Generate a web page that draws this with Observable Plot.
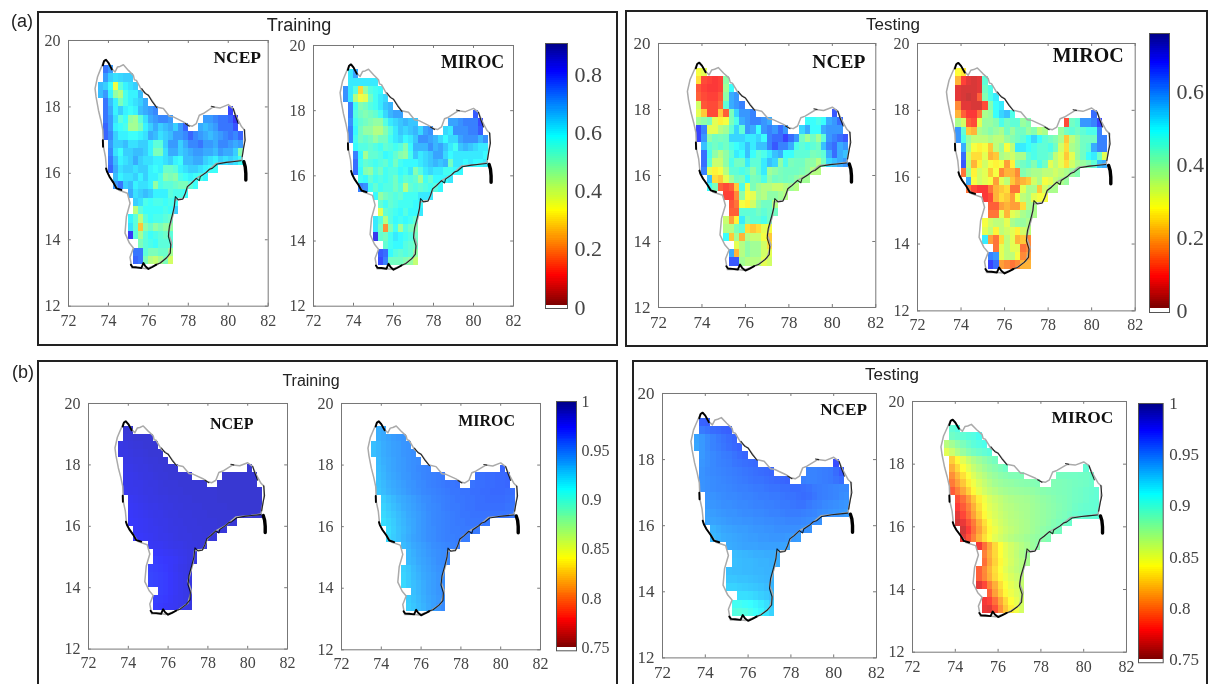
<!DOCTYPE html>
<html>
<head>
<meta charset="utf-8">
<script src="https://cdn.jsdelivr.net/npm/d3@7"></script>
<script src="https://cdn.jsdelivr.net/npm/@observablehq/plot@0.6"></script>
<style>
html,body{margin:0;padding:0;background:#fff;}
#page{position:relative;width:1209px;height:684px;overflow:hidden;background:#fff;font-family:"Liberation Sans",sans-serif;color:#222;filter:blur(0.5px);}
.box{position:absolute;border:2px solid #222;box-sizing:border-box;}
.lab{position:absolute;transform:translate(-50%,-50%);white-space:nowrap;}
#page svg{position:absolute;overflow:visible;background:transparent;}
</style>
</head>
<body>
<div id="page"></div>
<script>
// Grid: latitude of the top of each row and the longitude spans it covers
const rowTops = [19.25,19,18.75,18.5,18.25,18,17.75,17.5,17.25,17,16.75,16.5,16.25,16,15.75,15.5,15.25,15,14.75,14.5,14.25,14,13.75,13.5];
const rowSpans = [
 [[73.75,74.25]],[[73.75,75.25]],[[73.5,75.5]],[[73.5,75.75]],[[73.75,76]],[[73.75,76.5],[80,80.25]],
 [[73.75,77.25],[78.75,80.5]],[[73.75,78],[78.5,80.5]],[[73.75,80.75]],[[74,80.75]],[[74,80.75]],[[74,80.75]],
 [[74,79.5]],[[74.25,79]],[[74.25,78.5]],[[75,78]],[[75.25,77.5]],[[75.25,77.5]],[[75,77.25]],[[75,77.25]],
 [[75,77.25]],[[75.5,77.25]],[[75.25,77.25]],[[75.25,77.25]]
];
// Panel (a), values in hundredths
const aTrainNcep = [
[73,69],[69,63,61,62,63,63],[65,63,57,34,53,59,61,63],[65,69,59,46,42,55,59,59,65],[73,65,59,49,55,59,61,63,67],
[73,67,59,63,59,57,59,65,67,69,71,79],
[73,69,61,53,57,46,44,53,61,67,69,71,71,69,69,69,71,73,73,75,81],
[75,69,59,57,55,44,44,49,59,63,67,63,65,67,63,69,75,67,65,67,69,73,73,73,77],
[75,71,63,59,59,57,57,59,61,67,65,61,63,65,69,69,71,75,71,69,67,65,67,69,71,73,71,75],
[69,63,63,65,61,61,63,63,59,53,53,63,69,69,63,67,71,71,73,69,69,67,71,71,69,67,69],
[71,61,57,63,63,65,65,63,59,49,49,61,67,67,63,65,67,69,69,67,67,65,69,67,67,63,48],
[73,65,59,61,63,67,63,61,61,59,59,61,63,59,57,65,65,67,67,63,61,59,63,61,63,61,57],
[75,67,61,63,63,61,63,63,59,57,59,51,51,53,59,61,63,63,61,59,57,57],
[65,59,61,61,63,59,63,59,59,55,47,49,47,55,57,59,57,55,59],
[69,73,63,65,59,61,61,59,46,55,53,53,51,49,49,53,57],
[67,61,63,65,63,59,59,59,53,55,55,57],[63,61,55,57,55,55,57,55,57],[41,53,57,57,57,57,55,57,63],
[59,53,41,53,57,55,55,53,51],[61,53,26,47,51,46,49,46,46],[81,53,44,53,57,55,53,51,53],
[49,53,55,57,53,53,53],[73,73,53,49,49,51,51,44],[75,73,49,42,40,44,49,38]];
const aTrainMiroc = [
[60,68],[60,60,60,60,60,60],[70,60,54,28,46,54,56,58],[70,60,42,34,36,50,56,60,62],[72,56,48,50,54,56,60,64,66],
[72,54,50,48,50,52,56,62,66,68,68,76],
[70,56,52,50,48,46,46,54,60,62,64,66,64,64,68,68,70,72,72,72,78],
[72,58,50,46,46,42,42,48,54,60,64,62,64,66,62,68,70,62,60,70,70,70,72,72,76],
[72,56,50,52,50,46,50,50,56,60,62,58,60,64,70,70,68,66,62,58,62,62,68,70,70,70,66,70],
[58,54,54,52,54,56,52,54,56,54,48,58,66,66,66,70,66,68,64,60,56,64,66,64,62,60,60],
[72,58,44,52,52,54,58,56,52,48,46,56,64,60,62,64,68,68,62,58,60,60,60,60,60,60,58],
[74,56,52,54,56,54,52,56,50,56,58,58,58,60,62,64,66,64,66,50,60,60,58,60,58,58,60],
[74,58,48,46,54,50,56,54,54,58,56,60,48,54,60,62,60,60,56,56,58,58],
[56,58,52,56,54,56,54,50,56,52,54,52,44,56,52,58,58,58,60],
[72,70,56,52,56,54,54,50,54,42,52,54,52,54,56,54,58],
[58,46,50,52,54,52,56,56,56,60,60,60],[52,56,52,54,56,56,56,58,58],[36,52,54,56,58,54,58,58,60],
[60,54,42,54,58,56,58,56,52],[60,50,20,48,56,44,54,50,48],[82,52,50,56,60,58,56,54,50],
[52,56,58,58,54,52,50],[76,74,58,54,52,54,52,46],[78,72,50,50,50,48,46,40]];
const aTestNcep = [
[28,30],[24,10,9,8,9,39],[null,11,9,8,8,9,37,48],[null,12,10,9,9,11,39,56,58],[32,11,10,10,13,44,56,58,60],
[30,22,10,10,22,12,41,52,58,58,60,64],
[37,39,41,30,26,28,41,46,56,58,60,60,58,56,48,48,46,48,56,58,62],
[66,60,30,30,35,37,44,52,44,58,56,48,58,60,58,62,58,52,56,48,48,56,58,58,58],
[66,58,39,42,41,42,52,52,52,50,50,52,48,60,62,62,66,62,58,42,37,42,37,44,58,60,62,64],
[54,44,42,44,42,46,48,50,54,50,54,54,60,64,60,60,56,46,44,46,44,42,54,60,62,56,58],
[62,46,39,35,39,44,50,48,54,48,44,46,50,54,56,48,48,44,44,44,41,42,44,56,62,56,54],
[62,44,33,33,39,46,42,42,50,44,44,50,54,52,39,46,41,42,42,39,39,35,42,52,54,56,58],
[60,30,26,28,35,44,44,46,44,39,44,50,37,39,41,42,42,42,41,39,35,35],
[54,24,22,30,37,42,41,48,41,42,46,39,42,41,42,41,39,37,37],
[48,41,12,10,12,22,46,30,41,37,35,35,33,33,35,37,35],
[9,9,16,39,28,30,37,35,39,39,37,35],[11,14,28,26,32,39,42,42,35],[12,12,44,44,44,42,44,42,42],
[33,18,26,50,42,44,44,46,42],[35,35,41,44,24,22,24,30,28],[48,22,37,20,35,33,33,28,22],
[30,35,39,37,37,32,24],[56,20,35,39,37,37,32,30],[64,64,37,35,35,35,30,32]];
const aTestMiroc = [
[27,25],[20,9,6,5,6,44],[null,6,5,5,5,6,42,46],[null,6,5,4,5,12,40,46,50],[16,6,6,5,5,10,40,48,50],
[20,12,8,8,14,36,38,48,52,54,46,62],
[36,32,12,10,30,38,38,40,46,42,44,44,38,40,10,42,44,58,58,60,66],
[58,44,22,20,36,38,40,38,36,42,38,42,42,38,40,34,36,38,42,44,42,44,46,46,60],
[58,46,38,34,34,34,36,34,34,38,40,42,44,48,52,48,44,42,40,36,22,34,38,42,42,42,60,60],
[56,36,28,26,28,22,34,38,28,34,50,50,48,46,44,44,46,42,32,24,36,38,42,44,56,60,60],
[62,32,24,24,30,20,22,36,34,32,36,36,44,46,44,44,42,34,30,22,30,38,42,48,50,42,30],
[64,34,20,26,32,28,26,28,18,26,40,42,44,40,46,42,30,34,30,24,32,36,38,40,44,54,56],
[14,38,26,32,30,22,28,16,20,20,16,40,38,36,36,34,34,32,34,36,38,40],
[56,28,32,30,28,18,30,34,22,18,20,22,32,36,28,30,34,36,38],
[14,10,8,8,14,20,22,24,14,14,30,36,36,22,32,36,36],
[8,10,20,24,22,18,28,34,36,30,28,28],[12,12,18,20,18,18,24,36,36],[14,14,30,20,30,32,36,38,36],
[28,32,34,34,30,36,38,38,36],[30,34,26,34,32,30,26,32,34],[50,18,14,24,34,30,20,22,16],
[14,30,34,30,30,14,16],[60,58,30,34,34,28,16,18],[66,62,18,16,14,16,20,20]];
// Panel (b), values in thousandths
const bTrainNcep = [
[984,984],[983,983,984,984,984,984],[980,981,982,983,983,984,984,984],[980,980,981,982,982,983,984,984,984],[980,980,981,981,982,983,983,984,984],
[979,979,980,981,981,982,983,983,984,984,984,985],
[978,978,979,980,981,981,982,983,983,984,984,984,984,984,985,985,985,985,985,985,985],
[978,978,979,979,980,981,981,982,983,983,983,984,984,984,984,984,984,985,985,985,985,985,985,985,985],
[977,978,978,979,980,980,981,982,982,983,983,983,984,984,984,984,984,984,984,985,985,985,985,985,985,985,985,985],
[976,977,978,979,980,980,981,981,982,982,983,983,983,984,984,984,984,984,985,985,985,985,985,985,985,985,985],
[975,976,977,978,979,979,980,981,981,982,982,983,983,983,983,984,984,984,984,984,985,985,985,985,985,985,985],
[974,975,976,977,978,979,979,980,981,981,982,982,982,983,983,983,984,984,984,984,984,984,985,985,985,985,985],
[973,974,975,976,977,978,979,979,980,981,981,982,982,982,983,983,983,983,984,984,984,984],
[974,975,976,977,977,978,979,980,980,981,981,982,982,982,983,983,983,983,983],
[973,974,975,976,977,978,978,979,980,981,981,981,982,982,982,983,983],
[975,976,976,977,978,979,979,980,981,981,982,982],[973,974,975,976,977,978,979,980,981],[971,972,973,974,975,977,978,980,981],
[969,970,971,972,974,976,978,979,981],[968,969,970,971,973,975,977,979,981],[968,969,970,971,973,975,977,979,981],
[970,971,973,975,977,979,980],[970,971,972,974,976,977,979,980],[971,972,974,975,976,978,979,981]];
const bTrainMiroc = [
[935,937],[935,937,939,941,942,943],[930,933,936,938,940,941,943,944],[930,933,936,938,940,941,943,944,945],[932,935,937,939,941,942,944,945,946],
[931,934,937,939,941,942,944,945,947,948,949,958],
[930,933,936,938,940,942,943,945,946,948,949,950,951,952,955,955,956,956,957,957,958],
[929,932,935,937,939,941,943,944,946,947,949,950,951,952,953,953,954,954,955,955,956,956,957,957,958],
[928,931,934,936,938,940,942,944,945,947,948,949,950,951,952,953,953,954,954,955,955,956,956,957,957,957,956,955],
[926,929,932,935,937,939,941,943,945,946,948,949,950,951,952,953,953,954,954,955,955,956,956,956,956,955,954],
[924,927,930,933,936,938,940,942,944,946,947,948,950,951,952,952,953,954,954,955,955,955,955,955,955,954,953],
[922,925,928,931,934,937,939,941,943,945,947,948,949,950,951,952,953,953,954,954,954,954,954,954,953,953,952],
[920,923,926,930,933,936,938,941,943,945,947,948,949,950,951,952,952,953,953,953,953,952],
[921,925,929,932,935,938,941,943,945,946,948,949,950,951,951,952,952,952,952],
[922,926,929,933,936,939,941,943,945,946,948,949,950,950,951,951,951],
[931,934,937,939,941,943,945,946,947,948,949,950],[932,935,938,940,942,944,945,946,947],[932,934,937,939,941,943,945,946,947],
[925,928,932,935,938,940,942,944,945],[924,927,931,934,937,939,941,943,945],[922,926,930,933,936,939,941,943,945],
[930,933,936,939,941,943,945],[926,929,932,935,938,940,942,945],[925,928,931,934,937,940,943,946]];
const bTestNcep = [
[959,960],[952,954,956,957,959,960],[939,942,946,949,952,954,956,958],[938,942,946,949,951,953,955,957,959],[942,945,947,949,951,952,954,956,958],
[943,945,947,949,950,951,953,954,955,956,957,966],
[944,946,947,948,949,950,951,952,953,954,955,956,957,958,949,949,950,951,952,956,962],
[944,945,946,947,948,949,950,951,952,953,954,954,955,956,957,958,959,950,949,949,950,951,952,954,956],
[944,945,946,947,947,948,949,950,950,951,952,952,953,954,954,955,955,956,956,955,954,952,951,950,949,948,947,947],
[944,944,945,946,947,947,948,949,949,950,951,951,952,952,953,954,954,955,956,955,953,951,950,949,948,946,945],
[942,943,944,945,945,946,947,947,948,949,949,950,950,951,952,952,953,954,954,952,950,949,947,946,945,944,943],
[940,941,942,943,944,944,945,946,946,947,947,948,949,949,950,951,951,951,950,949,948,946,945,944,943,942,941],
[939,939,940,941,942,943,943,944,944,945,945,946,946,947,947,948,948,948,947,946,945,944],
[934,936,938,939,940,941,941,942,943,943,944,944,945,945,945,945,945,944,944],
[932,934,936,937,938,939,940,941,941,942,942,943,943,943,942,942,941],
[936,937,938,939,939,939,940,940,940,940,939,939],[931,932,933,934,935,935,936,936,936],[930,931,932,932,933,934,934,935,935],
[930,931,931,932,932,933,933,934,934],[928,928,929,929,930,931,932,933,934],[924,924,925,926,927,928,929,931,933],
[920,920,921,923,925,927,930],[906,906,908,910,913,916,920,926],[900,898,900,904,908,913,918,924]];
const bTestMiroc = [
[895,900],[890,893,895,898,900,905],[865,872,880,886,892,897,900,903],[850,858,868,876,883,888,892,895,898],[825,838,850,860,868,874,879,884,888],
[815,828,840,850,860,867,873,878,882,886,890,895],
[805,818,830,842,852,860,866,872,876,880,882,884,884,885,888,888,889,889,890,890,892],
[798,810,822,835,845,854,861,867,872,875,877,878,880,881,882,883,884,884,885,886,887,888,889,890,892],
[788,800,812,825,838,848,856,862,866,870,872,874,875,876,877,878,880,882,883,884,885,886,887,889,890,892,893,895],
[785,795,808,822,835,845,853,858,862,866,868,870,871,872,874,876,878,880,882,884,885,887,889,890,892,894,895],
[778,788,800,815,830,842,850,855,860,864,866,868,870,871,873,875,877,879,881,883,885,887,890,892,893,894,895],
[770,782,795,810,825,838,847,853,858,862,865,867,869,871,873,875,877,879,881,884,886,889,892,894,895,896,897],
[765,772,785,798,815,830,842,850,856,860,864,866,868,870,873,875,877,880,883,886,889,892],
[765,778,795,810,825,838,846,853,858,862,865,868,870,873,876,879,882,885,888],
[770,785,800,816,830,841,850,856,861,865,868,870,873,876,878,881,884],
[775,795,812,828,840,849,856,861,866,870,875,880],[800,815,828,840,849,856,862,868,873],[795,812,826,838,847,855,861,866,870],
[790,803,817,830,841,850,857,862,866],[790,802,815,828,838,846,853,858,862],[770,782,800,815,830,841,849,855,860],
[790,810,825,838,846,852,858],[775,780,795,812,828,840,848,856],[772,770,785,805,822,835,845,855]];
// Basin boundary (lon, lat)
const grayOutline = [[73.75,19.35],[73.83,19.42],[74,19.33],[74.17,19.15],[74.33,19.05],[74.45,19.2],[74.58,19.22],[74.75,19.27],[75,19.1],[75.25,18.95],[75.3,18.82],[75.4,18.8],[75.67,18.5],[76,18.35],[76.4,18],[76.75,17.95],[77.05,17.72],[77.25,17.7],[77.75,17.55],[78,17.45],[78.2,17.42],[78.4,17.5],[78.55,17.75],[78.75,17.8],[79.25,18],[79.6,17.97],[80,18.07],[80.25,17.95],[80.4,17.72],[80.67,17.4],[80.83,17.3],[80.8,16.9],[80.67,16.4],[80.17,16.35],[79.4,16.3],[78.9,16.03],[78.4,15.85],[78,15.62],[77.75,15.25],[77.33,15.2],[77.25,14.78],[77,14.2],[77.17,13.9],[77,13.5],[76.5,13.27],[75.9,13.13],[75.67,13.15],[75.17,13.15],[75.08,13.47],[75.25,13.75],[75.05,13.9],[74.83,14.2],[74.9,14.7],[75.08,15.1],[74.95,15.4],[74.5,15.5],[74.17,15.8],[73.92,16.05],[73.85,16.5],[73.75,16.8],[73.72,17.3],[73.62,17.6],[73.5,17.9],[73.38,18.3],[73.33,18.55],[73.45,18.9],[73.58,19.1],[73.75,19.35]];
const blackTop = [[73.72,19.25],[73.78,19.38],[73.88,19.42],[74,19.33],[74.17,19.13]];
const blackNorth = [[75.67,18.55],[75.85,18.4],[76,18.35],[76.2,18.15],[76.42,17.98]];
const blackKnee = [[77.85,17.5],[78.05,17.42]];
const blackNotch = [[79.15,18.02],[79.3,18]];
const blackEast = [[80.25,17.95],[80.35,17.75],[80.5,17.5]];
const blackCoast = [[80.8,17.32],[80.85,17],[80.78,16.8],[80.7,16.5]];
const blackSpur = [[80.78,16.35],[80.85,16.2],[80.88,16],[80.88,15.8]];
const blackSouth = [[80.65,16.38],[80.2,16.35],[79.9,16.33],[79.45,16.28],[79.2,16.15],[79.05,16.12],[78.9,16.03],[78.6,15.9],[78.55,15.78],[78.4,15.85],[78.15,15.7],[77.95,15.6],[77.85,15.4],[77.72,15.22],[77.5,15.2],[77.35,15.3],[77.3,15],[77.2,14.75],[77.05,14.4],[77,14.1],[77.12,13.85],[77.1,13.6],[76.9,13.45],[76.6,13.3],[76.35,13.25]];
const blackBottom = [[76.4,13.25],[76.2,13.18],[76,13.12],[75.85,13.2],[75.75,13.3],[75.65,13.15],[75.4,13.17],[75.2,13.18],[75.12,13.25]];
const blackWest = [[74.65,15.5],[74.4,15.55],[74.25,15.72],[74.05,15.9],[73.93,16.05],[73.88,16.15]];
const blackNick = [[73.72,17],[73.73,16.8]];
const xTicks = [72,74,76,78,80,82];
const yTicks = [12,14,16,18,20];
// Colour map stops
const jetPos = [0,0.11,0.36,0.5,0.64,0.89,1];
const jetColors = ["#800000","#ff0000","#ffff00","#80ff80","#00ffff","#0000ff","#000080"];

const page = document.getElementById("page");
const blackFine = [blackKnee,blackNotch,blackEast,blackNorth,blackCoast,blackSouth];
const blackThick = [blackTop,blackBottom,blackWest,blackNick];
const colorScale = (lo,hi)=>({type:"linear",domain:jetPos.map(t=>lo+t*(hi-lo)),range:jetColors,clamp:true});
const place = (svg,left,top)=>{svg.style.left=left+"px";svg.style.top=top+"px";page.appendChild(svg);};

function cellsOf(rows,div){
  const out=[];
  rowSpans.forEach((spans,i)=>{
    let k=0;
    spans.forEach(([a,b])=>{
      for(let lon=a;lon<b-1e-6;lon+=0.25){
        const v=rows[i][k++];
        if(v!=null) out.push({lon,lon2:lon+0.25,lat:rowTops[i]-0.25,lat2:rowTops[i],v:v/div});
      }
    });
  });
  return out;
}
function map(o){
  const m=44, W=o.r-o.l, H=o.b-o.t;
  const line=(pts,stroke,sw,op=1)=>Plot.line(pts,{x:d=>d[0],y:d=>d[1],stroke,strokeWidth:sw,strokeOpacity:op,strokeLinejoin:"round"});
  const svg=Plot.plot({
    width:W+2*m,height:H+2*m,marginLeft:m,marginRight:m,marginTop:m,marginBottom:m,
    style:{fontFamily:"'Liberation Serif',serif",color:"#444",background:"transparent",overflow:"visible"},
    x:{domain:[72,82],label:null},y:{domain:[12,20],label:null},
    color:colorScale(o.lo,o.hi),
    marks:[
      Plot.rect(cellsOf(o.rows,o.div),{x1:"lon",x2:"lon2",y1:"lat",y2:"lat2",fill:"v",fillOpacity:0.78,shapeRendering:"crispEdges"}),
      line(grayOutline,"#aaa",1.5),
      ...blackFine.map(p=>line(p,"#000",1.1,0.8)),
      ...blackThick.map(p=>line(p,"#000",1.9)),
      line(blackSpur,"#000",3.4),
      Plot.frame({stroke:"#777",strokeWidth:1}),
      Plot.ruleX(xTicks,{x:d=>d,y1:12,y2:12.09,stroke:"#777"}),
      Plot.ruleX(xTicks,{x:d=>d,y1:20,y2:19.91,stroke:"#777"}),
      Plot.ruleY(yTicks,{y:d=>d,x1:72,x2:72.14,stroke:"#777"}),
      Plot.ruleY(yTicks,{y:d=>d,x1:82,x2:81.86,stroke:"#777"}),
      Plot.axisX({ticks:xTicks,tickSize:0,tickPadding:8,fontSize:o.fs,label:null,tickFormat:d=>d}),
      Plot.axisY({ticks:yTicks,tickSize:0,tickPadding:8,fontSize:o.fs,label:null,tickFormat:d=>d}),
      Plot.text([o.name],{x:o.nx,y:o.ny,text:d=>d,fontSize:o.nfs,fontWeight:"bold",fill:"#111"})
    ]
  });
  place(svg,o.l-m,o.t-m);
}
function bar(o){
  const mL=2,mR=50,W=o.r-o.l,H=o.b-o.t;
  const n=128, span=o.hi-o.lo;
  const ramp=d3.range(n).map(i=>({a:o.lo+span*i/n,b:o.lo+span*(i+1)/n}));
  const svg=Plot.plot({
    width:W+mL+mR,height:H+2,marginLeft:mL,marginRight:mR,marginTop:1,marginBottom:1,
    style:{fontFamily:"'Liberation Serif',serif",color:"#444",background:"transparent",overflow:"visible"},
    x:{domain:[0,1],axis:null},y:{domain:[o.bottom,o.hi],label:null},
    color:colorScale(o.lo,o.hi),
    marks:[
      Plot.rect(ramp,{x1:0,x2:1,y1:"a",y2:"b",fill:"a",shapeRendering:"crispEdges"}),
      Plot.frame({stroke:"#555"}),
      Plot.axisY({anchor:"right",ticks:o.ticks,tickSize:0,tickPadding:o.pad,fontSize:o.fs,label:null,tickFormat:d=>d,dy:o.dy})
    ]
  });
  place(svg,o.l-mL,o.t-1);
}
function label(text,x,y,size){
  const d=document.createElement("div");
  d.className="lab";d.textContent=text;d.style.left=x+"px";d.style.top=y+"px";d.style.fontSize=size+"px";
  page.appendChild(d);
}
function box(l,t,r,b){
  const d=document.createElement("div");
  d.className="box";d.style.left=l+"px";d.style.top=t+"px";d.style.width=(r-l)+"px";d.style.height=(b-t)+"px";
  page.appendChild(d);
}
box(37,11,618,346);box(625,10,1208,347);box(37,360,618,700);box(632,360,1208,700);
label("(a)",22,21,18);label("(b)",23,372,18);
label("Training",299,25,18);label("Testing",893,25,17);
label("Training",311,381,16);label("Testing",892,375,17);

map({rows:aTrainNcep,div:100,lo:0,hi:0.9,name:"NCEP",l:68.3,r:268,t:40,b:305.7,fs:16,nfs:17.5,nx:80.45,ny:19.5});
map({rows:aTrainMiroc,div:100,lo:0,hi:0.9,name:"MIROC",l:313.3,r:513.3,t:45,b:305.7,fs:16,nfs:17.8,nx:79.95,ny:19.47});
map({rows:aTestNcep,div:100,lo:0,hi:0.753,name:"NCEP",l:657.7,r:875,t:42.7,b:306.7,fs:17,nfs:19.5,nx:80.3,ny:19.45});
map({rows:aTestMiroc,div:100,lo:0,hi:0.753,name:"MIROC",l:917.3,r:1135,t:43.3,b:310.7,fs:16,nfs:20,nx:79.84,ny:19.63});
map({rows:bTrainNcep,div:1000,lo:0.75,hi:1,name:"NCEP",l:88.3,r:287.3,t:402.7,b:648.3,fs:16,nfs:16,nx:79.2,ny:19.34});
map({rows:bTrainMiroc,div:1000,lo:0.75,hi:1,name:"MIROC",l:341,r:540,t:402.7,b:649,fs:16,nfs:16,nx:79.29,ny:19.43});
map({rows:bTestNcep,div:1000,lo:0.75,hi:1,name:"NCEP",l:661.7,r:875.7,t:393.3,b:657.7,fs:17,nfs:17.2,nx:80.46,ny:19.53});
map({rows:bTestMiroc,div:1000,lo:0.75,hi:1,name:"MIROC",l:911.7,r:1125.7,t:401,b:651.7,fs:16,nfs:17.4,nx:79.94,ny:19.5});

bar({l:545,r:567,t:43,b:308,lo:0,hi:0.9,bottom:-0.01,ticks:[0,0.2,0.4,0.6,0.8],fs:22,pad:7,dy:2});
bar({l:1149,r:1169,t:32.7,b:311.7,lo:0,hi:0.753,bottom:-0.012,ticks:[0,0.2,0.4,0.6],fs:22,pad:7,dy:3});
bar({l:556,r:576,t:400.7,b:650,lo:0.75,hi:1,bottom:0.747,ticks:[0.75,0.8,0.85,0.9,0.95,1],fs:16,pad:5,dy:0});
bar({l:1138,r:1162.7,t:402.7,b:662,lo:0.75,hi:1,bottom:0.747,ticks:[0.75,0.8,0.85,0.9,0.95,1],fs:17,pad:6,dy:0});
</script>
</body>
</html>
